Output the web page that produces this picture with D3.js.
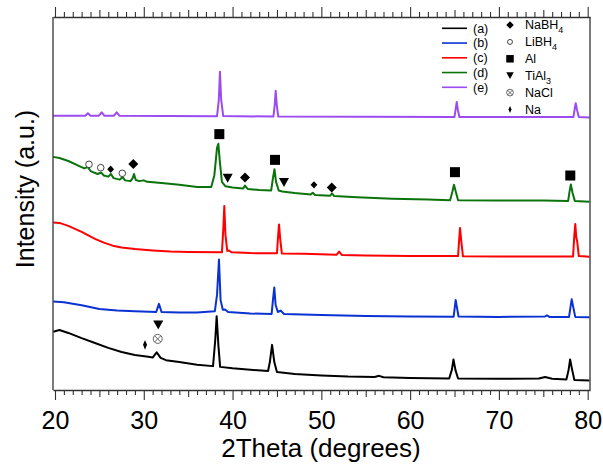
<!DOCTYPE html>
<html>
<head>
<meta charset="utf-8">
<script src="https://cdn.jsdelivr.net/npm/d3@7"></script>
<style>
  html, body { margin: 0; padding: 0; background: #fff; }
  svg { display: block; font-family: "Liberation Sans", Arial, sans-serif; }
</style>
</head>
<body>
<svg id="chart" width="603" height="468"></svg>
<script>
// ---- XRD patterns: [2theta (deg), intensity (a.u.) above the pattern's own baseline] ----
const patternA = [
  [19.8,13.1],[20.5,13.6],[21.5,12.8],[23,11.4],[24.5,10.1],[26,8.8],[27.5,7.7],[29,6.9],
  [30.5,6.4],[31.0,6.2],[31.45,7.6],[31.9,6.1],[32.5,5.5],[34,5.0],[36,4.3],[37.8,3.9],
  [38.05,10.9],[38.21,17.3],[38.4,9.6],[38.6,3.7],[40,3.3],[42,2.9],[44.0,2.6],[44.2,5.0],
  [44.45,9.6],[44.7,5.0],[45.0,2.3],[47,1.8],[50,1.4],[53,1.1],[56,1.0],[56.5,1.3],[57,0.9],
  [60,0.7],[64.4,0.6],[64.7,2.9],[64.88,5.7],[65.1,2.9],[65.4,0.6],[70,0.5],[74.5,0.6],
  [75.2,1.0],[76,0.5],[77.6,0.3],[77.85,2.9],[78.02,5.7],[78.25,2.9],[78.5,0.2],[80.2,0.05]
];
const patternB = [
  [19.8,4.2],[21,4.0],[23,3.2],[25,2.2],[27,1.8],[29,1.6],[31.4,1.4],[31.71,3.6],[32.0,1.4],
  [34,1.3],[36,1.3],[38.0,1.6],[38.25,6.0],[38.47,15.5],[38.65,4.6],[38.9,2.0],[39.15,2.1],
  [39.5,1.4],[42,1.0],[44.4,0.9],[44.55,4.6],[44.7,8.0],[44.85,3.3],[45.1,1.4],[45.4,1.8],
  [45.8,0.9],[50,0.6],[55,0.35],[60,0.2],[64.9,0.15],[65.05,3.0],[65.13,4.6],[65.25,3.0],
  [65.45,0.2],[70,0.1],[75.2,0.2],[75.4,0.5],[75.7,0.1],[77.9,0.1],[78.1,3.3],[78.2,4.8],
  [78.35,3.0],[78.6,0.1],[80.2,0.0]
];
const patternC = [
  [19.8,9.4],[20.5,9.3],[21.5,8.5],[23,6.9],[24.5,5.0],[25.5,4.0],[26.5,3.2],[27.5,2.7],
  [29,2.3],[31,1.9],[33,1.6],[35,1.5],[38.8,1.4],[38.95,7.4],[39.07,13.8],[39.2,6.1],
  [39.4,1.8],[39.6,1.9],[39.9,1.4],[42,1.2],[45.0,1.15],[45.1,4.7],[45.23,8.9],[45.38,4.7],
  [45.55,1.1],[48,1.0],[51.7,0.75],[52.0,1.6],[52.3,0.7],[55,0.55],[60,0.4],[65.4,0.4],
  [65.52,4.7],[65.62,7.9],[65.75,4.7],[65.95,0.35],[70,0.3],[75,0.3],[78.35,0.3],[78.5,6.1],
  [78.6,9.0],[78.72,5.3],[78.82,4.3],[79.0,0.4],[80.2,0.25]
];
const patternD = [
  [19.8,12.5],[20.5,12.2],[21.5,11.4],[22.5,10.3],[23.3,9.4],[23.7,9.8],[24.0,8.7],[24.8,7.9],
  [25.2,8.3],[25.5,7.5],[26.0,7.2],[26.3,7.9],[26.6,6.8],[27.3,6.4],[27.6,7.1],[27.9,6.2],
  [28.5,6.0],[28.75,6.8],[28.9,7.9],[29.1,6.3],[29.5,6.0],[30.0,6.2],[30.4,5.8],[32,5.5],
  [34,5.0],[36,4.4],[37.6,4.4],[37.95,7.6],[38.25,14.9],[38.4,16.0],[38.55,11.7],[38.8,5.8],
  [39.2,4.6],[40,4.3],[41.2,4.0],[41.4,4.8],[41.7,3.9],[43,3.6],[44.35,3.5],[44.55,6.8],
  [44.72,9.2],[44.9,5.8],[45.2,3.5],[45.6,3.2],[47,2.8],[48.8,2.4],[49.03,2.9],[49.3,2.3],
  [51.0,2.1],[51.2,2.7],[51.45,2.0],[54,1.7],[58,1.3],[62,1.1],[64.5,0.9],[64.75,3.1],
  [64.94,5.0],[65.15,3.1],[65.4,0.9],[70,0.8],[75,0.8],[77.8,0.7],[77.95,3.1],[78.1,5.1],
  [78.3,2.8],[78.55,0.7],[80.2,0.5]
];
const patternE = [
  [19.8,0.55],[23.4,0.55],[23.7,1.2],[24.0,0.55],[24.95,0.55],[25.26,1.45],[25.55,0.55],
  [26.65,0.55],[26.95,1.45],[27.25,0.55],[38.25,0.4],[38.45,4.7],[38.58,12.3],[38.72,4.7],
  [38.95,0.45],[44.6,0.3],[44.75,3.4],[44.86,7.2],[44.98,3.4],[45.15,0.3],[65.0,0.2],
  [65.15,2.6],[65.25,4.2],[65.38,2.1],[65.55,0.2],[78.4,0.2],[78.55,2.6],[78.65,3.9],
  [78.8,2.1],[79.0,0.2],[80.2,0.05]
];

// vertical stacking offset of each pattern (a.u.)
const offsets = [2.5, 19.5, 35.5, 50, 73];
const seriesLabels = ["(a)", "(b)", "(c)", "(d)", "(e)"];

// phase markers: [2theta, intensity in plot units, phase]
const phaseMarkers = [
  [23.83,60.5,"LiBH4"],[25.15,59.6,"LiBH4"],[26.27,59.2,"NaBH4s"],[27.58,58.1,"LiBH4"],
  [28.82,60.6,"NaBH4"],[38.51,68.6,"Al"],[39.45,56.8,"TiAl3"],[41.4,57.0,"NaBH4"],
  [44.78,61.7,"Al"],[45.79,55.6,"TiAl3"],[49.17,55.0,"NaBH4s"],[51.17,54.3,"NaBH4"],
  [65.05,58.4,"Al"],[78.04,57.5,"Al"],
  [30.14,12.1,"Na"],[31.63,17.4,"TiAl3"],[31.57,13.7,"NaCl"]
];
const phaseLegend = ["NaBH4", "LiBH4", "Al", "TiAl3", "NaCl", "Na"];

const majorTicks = [20, 30, 40, 50, 60, 70, 80];
const midTicks = [25, 35, 45, 55, 65, 75];
const minorTicks = d3.range(20, 81).filter(v => v % 5 !== 0);

// ---- layout & styles ----
const patterns = [patternA, patternB, patternC, patternD, patternE];
const colors = ["#000000", "#0a32d2", "#ff0000", "#0b730b", "#9b4cf0"];
const margin = { left: 53, right: 13, top: 17, bottom: 78 };
const W = 603, H = 468;
const svg = d3.select("#chart");

const x = d3.scaleLinear().domain([19.775, 80.26]).range([margin.left, W - margin.right]);
const y = d3.scaleLinear().domain([0, 100]).range([H - margin.bottom, margin.top]);
const x0 = margin.left, x1 = W - margin.right, yb = H - margin.bottom, yt = margin.top;

// curves
const line = off => d3.line().x(d => x(d[0])).y(d => y(d[1] + off));
patterns.forEach((p, i) => {
  svg.append("path")
    .datum(p)
    .attr("fill", "none")
    .attr("stroke", colors[i])
    .attr("stroke-width", 2)
    .attr("stroke-linejoin", "round")
    .attr("d", line(offsets[i]));
});

// axes (bottom with labels, top ticks only)
const axisColor = "#333";
function styleAxis(g) {
  g.selectAll("line").attr("stroke", axisColor).attr("stroke-width", 1.1);
  g.selectAll("path.domain").attr("stroke", axisColor).attr("stroke-width", 1.3);
}
const gb = svg.append("g").attr("transform", `translate(0,${yb})`);
gb.append("g").call(d3.axisBottom(x).tickValues(minorTicks).tickSize(5).tickFormat("")).call(g => g.select(".domain").remove()).call(styleAxis);
gb.append("g").call(d3.axisBottom(x).tickValues(midTicks).tickSize(7).tickFormat("")).call(g => g.select(".domain").remove()).call(styleAxis);
gb.append("g").call(d3.axisBottom(x).tickValues(majorTicks).tickSize(10).tickSizeOuter(0).tickPadding(11.5).tickFormat(d3.format("d")))
  .call(styleAxis)
  .call(g => g.selectAll("text").attr("font-size", 25).attr("fill", "#000").attr("font-family", "'Liberation Sans', Arial, sans-serif"));

const gt = svg.append("g").attr("transform", `translate(0,${yt})`);
gt.append("g").call(d3.axisTop(x).tickValues(minorTicks).tickSize(5).tickFormat("")).call(g => g.select(".domain").remove()).call(styleAxis);
gt.append("g").call(d3.axisTop(x).tickValues(midTicks).tickSize(7).tickFormat("")).call(g => g.select(".domain").remove()).call(styleAxis);
gt.append("g").call(d3.axisTop(x).tickValues(majorTicks).tickSize(10).tickSizeOuter(0).tickFormat("")).call(styleAxis);

// side frame lines
[x0, x1].forEach(xx => {
  svg.append("line").attr("x1", xx).attr("x2", xx).attr("y1", yt).attr("y2", yb)
    .attr("stroke", axisColor).attr("stroke-width", 1.3);
});

// axis titles
svg.append("text").attr("x", 321).attr("y", 457).attr("text-anchor", "middle")
  .attr("font-size", 26).attr("fill", "#000").text("2Theta (degrees)");
svg.append("text").attr("transform", "translate(34,189) rotate(-90)").attr("text-anchor", "middle")
  .attr("font-size", 25).attr("fill", "#000").text("Intensity (a.u.)");

// marker shapes
function diamond(w, h) { return `M0,${-h}L${w},0L0,${h}L${-w},0Z`; }
function drawMarker(g, kind, scale) {
  const s = scale || 1;
  if (kind === "NaBH4") g.append("path").attr("d", diamond(5 * s, 5 * s)).attr("fill", "#000");
  else if (kind === "NaBH4s") g.append("path").attr("d", diamond(3.4, 3.7)).attr("fill", "#000");
  else if (kind === "Na") g.append("path").attr("d", diamond(2 * s, 4.8 * s)).attr("fill", "#000");
  else if (kind === "Al") g.append("rect").attr("x", -5 * s).attr("y", -5 * s).attr("width", 10 * s).attr("height", 10 * s).attr("fill", "#000");
  else if (kind === "TiAl3") g.append("path").attr("d", `M${-5 * s},${-4.5 * s}L${5 * s},${-4.5 * s}L0,${4.5 * s}Z`).attr("fill", "#000");
  else if (kind === "LiBH4") g.append("circle").attr("r", 3.3 * s).attr("fill", "#fff").attr("stroke", "#444").attr("stroke-width", 1);
  else if (kind === "NaCl") {
    const r = 4.5 * s, k = r * 0.68;
    g.append("circle").attr("r", r).attr("fill", "#fff").attr("stroke", "#555").attr("stroke-width", 0.9);
    g.append("path").attr("d", `M${-k},${-k}L${k},${k}M${-k},${k}L${k},${-k}`).attr("stroke", "#555").attr("stroke-width", 0.9);
  }
}
phaseMarkers.forEach(m => {
  const g = svg.append("g").attr("transform", `translate(${x(m[0])},${y(m[1])})`);
  drawMarker(g, m[2], 1);
});

// legend: patterns
const legA = svg.append("g");
seriesLabels.forEach((lab, i) => {
  const ly = 28.3 + i * 14.75;
  legA.append("line").attr("x1", 442).attr("x2", 467).attr("y1", ly).attr("y2", ly)
    .attr("stroke", colors[i]).attr("stroke-width", 1.6);
  legA.append("text").attr("x", 473).attr("y", ly).attr("dy", "0.35em")
    .attr("font-size", 12.5).attr("fill", "#000").text(lab);
});

// legend: phases
const legB = svg.append("g");
phaseLegend.forEach((ph, i) => {
  const ly = 25 + i * 16.9;
  const g = legB.append("g").attr("transform", `translate(510,${ly})`);
  drawMarker(g, ph, 0.75);
  const t = legB.append("text").attr("x", 525).attr("y", ly).attr("dy", "0.35em")
    .attr("font-size", 12.5).attr("fill", "#000");
  const m = ph.match(/^(.*?)(\d+)$/);
  if (m) {
    t.append("tspan").text(m[1]);
    t.append("tspan").attr("dy", 4).attr("font-size", 9).text(m[2]);
  } else {
    t.text(ph);
  }
});
</script>
</body>
</html>
